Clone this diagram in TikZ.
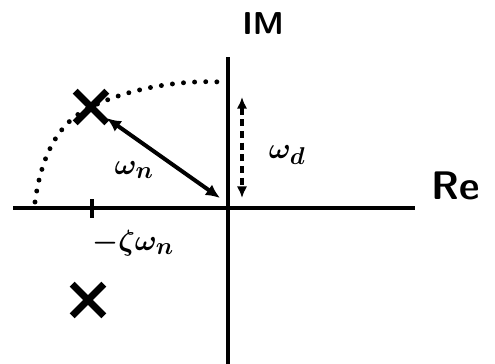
\documentclass[tikz,border=0pt]{standalone}
\usepackage{amsmath, amssymb, bm}
\usepackage{tikz}
\usetikzlibrary{arrows.meta, positioning, shapes.misc}

\begin{document}
\begin{tikzpicture}[x=0.03cm, y=-0.03cm,
    axis/.style={line width=4.2pt},
    pole/.style={cross out, draw, line width=6pt, minimum size=21pt, inner sep=0pt},
    lbl/.style={font=\sffamily\bfseries\fontsize{27}{30}\selectfont},
    mlbl/.style={font=\fontsize{30}{32}\selectfont},
    arcdots/.style={line width=4.2pt, line cap=round, dash pattern=on 0pt off 9.5pt}]
    \useasboundingbox (0,0) rectangle (495,364);
    % Axes
    \coordinate (o) at (228,208);
    \coordinate (reL) at (13,208);
    \coordinate (reR) at (415,208);
    \coordinate (imT) at (228,57);
    \coordinate (imB) at (228,364);
    \draw[axis] (reL) -- (reR);
    \draw[axis] (imT) -- (imB);
    \node[lbl] (im) at (263,24) {IM};
    \node[lbl, font=\sffamily\bfseries\fontsize{34}{36}\selectfont] (re) at (456,186) {Re};
    
    % Poles
    \node[pole] (p1) at (91,107) {};
    \node[pole] (p2) at (88,300) {};
    
    % Real part tick
    \coordinate (tkT) at (92,199);
    \coordinate (tkB) at (92,218);
    \draw[line width=3.4pt] (tkT) -- (tkB);
    \node[mlbl] (zw) at (133,243) {$\bm{-\zeta\omega_n}$};
    
    % Dotted arc through the pole
    \coordinate (arcS) at (35,202);
    \coordinate (arcE) at (220,82);
    \draw[arcdots] (arcS) .. controls (42,150) and (62,120) .. (p1.center)
        .. controls (130,88) and (180,80) .. (arcE);
    
    % Natural frequency
    \coordinate (wnE) at (220,198);
    \draw[line width=3.4pt, {Latex[length=12pt,width=11pt]}-{Latex[length=12pt,width=11pt]}] (p1) -- (wnE);
    \node[mlbl] (wn) at (134,170) {$\bm{\omega_n}$};
    
    % Damped frequency
    \coordinate (wdT) at (242,97);
    \coordinate (wdB) at (242,198);
    \draw[line width=2.6pt, dash pattern=on 6pt off 4pt, {Latex[length=10pt,width=9pt]}-{Latex[length=10pt,width=9pt]}] (wdT) -- (wdB);
    \node[mlbl] (wd) at (287,155) {$\bm{\omega_d}$};
\end{tikzpicture}
\end{document}
